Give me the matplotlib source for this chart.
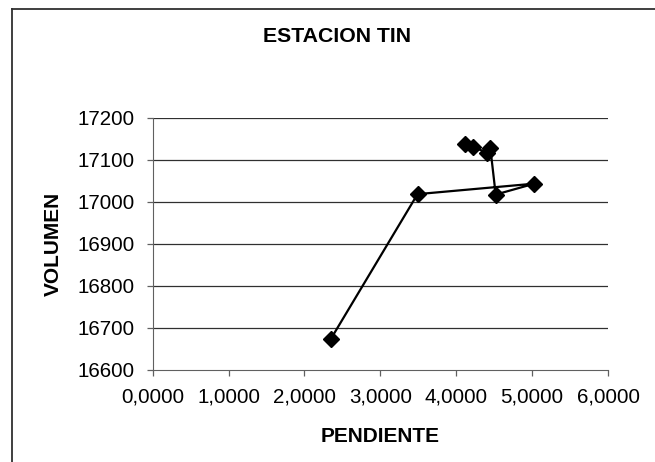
import matplotlib
matplotlib.use("Agg")
from matplotlib import pyplot as plt
from matplotlib.lines import Line2D
from matplotlib.ticker import FuncFormatter

# pendiente vs volumen, estacion TIN
pendiente = [2.35, 3.49, 5.03, 4.52, 4.45, 4.40, 4.22, 4.12]
volumen = [16674, 17018, 17043, 17017, 17127, 17117, 17131, 17137]

xTicks = [0, 1, 2, 3, 4, 5, 6]
yTicks = [16600, 16700, 16800, 16900, 17000, 17100, 17200]

plt.rcParams['font.family'] = ['Liberation Sans', 'DejaVu Sans']

fig = plt.figure(figsize=(6.55, 4.62), dpi=100)
ax = fig.add_axes([152.7/655, 1 - 369.7/462, (608 - 152.7)/655, (369.7 - 117.7)/462])

# frame around the whole chart (only left and top fall inside the image)
fig.add_artist(Line2D([12/655, 12/655], [0, 1 - 9/462], color="#303030", linewidth=1.3))
fig.add_artist(Line2D([12/655, 1], [1 - 9/462, 1 - 9/462], color="#303030", linewidth=1.3))

for y in yTicks[1:]:
    ax.axhline(y, color="#303030", linewidth=0.9, zorder=1)

ax.plot(pendiente, volumen, color="k", linewidth=1.6, marker="D",
        markersize=8.5, markerfacecolor="k", markeredgecolor="k", zorder=3)

ax.set_xlim(0, 6)
ax.set_ylim(16600, 17200)
ax.set_xticks(xTicks)
ax.set_yticks(yTicks)
ax.xaxis.set_major_formatter(FuncFormatter(lambda v, p: ("%.4f" % v).replace(".", ",")))
ax.yaxis.set_major_formatter(FuncFormatter(lambda v, p: "%d" % v))

ax.spines["top"].set_visible(False)
ax.spines["right"].set_visible(False)
ax.spines["left"].set_color("#606060")
ax.spines["bottom"].set_color("#606060")
ax.tick_params(axis="both", direction="out", length=4.3, width=0.9, color="#606060",
               labelsize=14.8, labelcolor="k")
ax.tick_params(axis="x", pad=8.7)
ax.tick_params(axis="y", pad=8.4)

fig.text(336.7/655, 1 - 36.3/462, "ESTACION TIN", ha="center", va="center",
         fontsize=15.3, fontweight="bold")
fig.text(380.3/655, 1 - 436/462, "PENDIENTE", ha="center", va="center",
         fontsize=15, fontweight="bold")
fig.text(53.3/655, 1 - 243.7/462, "VOLUMEN", ha="center", va="center",
         rotation=90, fontsize=15, fontweight="bold")

fig.savefig("out.png", dpi=100)
